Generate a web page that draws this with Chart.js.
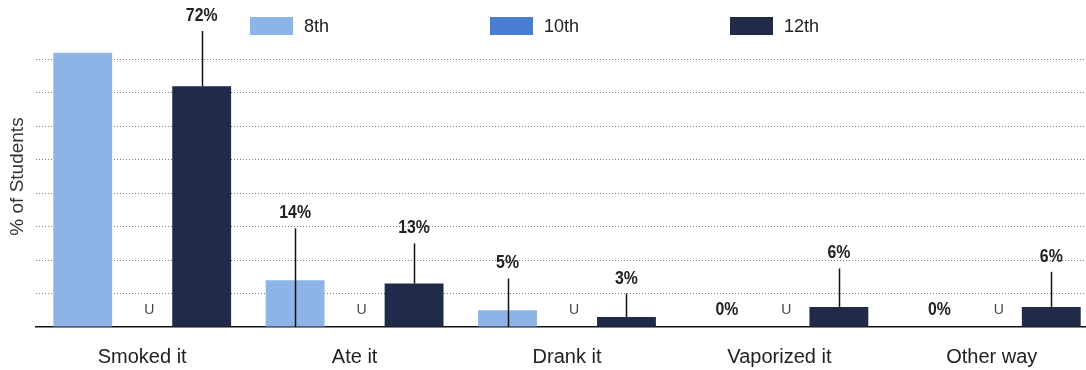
<!DOCTYPE html>
<html>
<head>
<meta charset="utf-8">
<script src="https://cdn.jsdelivr.net/npm/chart.js@4/dist/chart.umd.min.js"></script>
<style>
  html, body { margin:0; padding:0; background:#fff; overflow:hidden; width:1086px; height:370px; }
  #wrap { position:relative; width:1100px; height:370px; }
  #legend { position:absolute; left:250px; top:17px; display:flex; font-family:"Liberation Sans", Arial, sans-serif; font-size:18px; color:#222; }
  .item { width:240px; display:flex; align-items:center; height:18px; }
  .box { width:43px; height:18px; margin-right:11px; }
</style>
</head>
<body>
<div id="wrap">
  <canvas id="c" width="1100" height="370"></canvas>
  <div id="legend"></div>
</div>
<script>
// ---- data ----
const categories = ['Smoked it', 'Ate it', 'Drank it', 'Vaporized it', 'Other way'];
const seriesNames = ['8th', '10th', '12th'];
const seriesColors = ['#8db4e6', '#4a7dd2', '#1f2b48'];
const grade8  = [82, 14, 5, 0, 0];
const grade10 = [null, null, null, null, null];
const grade12 = [72, 13, 3, 6, 6];
const grade8Lower  = [null, 0, 0, null, null];
const grade8Upper  = [null, 29.5, 14.5, null, null];
const grade10Lower = [null, null, null, null, null];
const grade10Upper = [null, null, null, null, null];
const grade12Lower = [72, 13, 3, 6, 6];
const grade12Upper = [88.5, 25, 10, 17.5, 16.5];
const grade8Labels  = ['', '14%', '5%', '0%', '0%'];
const grade10Labels = ['U', 'U', 'U', 'U', 'U'];
const grade12Labels = ['72%', '13%', '3%', '6%', '6%'];
const yMin = 0, yMax = 90, yStep = 10;

const lowers = [grade8Lower, grade10Lower, grade12Lower];
const uppers = [grade8Upper, grade10Upper, grade12Upper];
const labels = [grade8Labels, grade10Labels, grade12Labels];

// HTML legend
const lg = document.getElementById('legend');
seriesNames.forEach((n, i) => {
  const it = document.createElement('div'); it.className = 'item';
  const b = document.createElement('div'); b.className = 'box'; b.style.background = seriesColors[i];
  const t = document.createElement('span'); t.textContent = n;
  it.appendChild(b); it.appendChild(t); lg.appendChild(it);
});

function narrowText(ctx, txt, x, y) {
  ctx.save();
  ctx.translate(x, y);
  ctx.scale(0.88, 1);
  ctx.fillText(txt, 0, 0);
  ctx.restore();
}

const ciPlugin = {
  id: 'ciAndLabels',
  afterDatasetsDraw(chart) {
    const ctx = chart.ctx;
    const y = chart.scales.y;
    const y0 = y.getPixelForValue(0);
    chart.data.datasets.forEach((ds, di) => {
      const meta = chart.getDatasetMeta(di);
      meta.data.forEach((bar, i) => {
        const x = bar.x;
        const up = uppers[di][i], lo = lowers[di][i];
        let labelY = null;
        if (up !== null && up !== undefined) {
          const yt = y.getPixelForValue(up);
          const yb = y.getPixelForValue(lo);
          ctx.save();
          ctx.strokeStyle = '#111';
          ctx.lineWidth = 1.5;
          ctx.beginPath();
          ctx.moveTo(Math.round(x) + 0.5, yt);
          ctx.lineTo(Math.round(x) + 0.5, yb);
          ctx.stroke();
          ctx.restore();
          labelY = yt - 15;
        }
        const txt = labels[di][i];
        if (!txt) return;
        ctx.save();
        ctx.textAlign = 'center';
        ctx.textBaseline = 'middle';
        if (labelY === null) {
          labelY = y0 - 17;
          if (txt === 'U') {
            ctx.font = '14px "Liberation Sans", Arial, sans-serif';
            ctx.fillStyle = '#444';
            ctx.fillText(txt, x + 7, labelY);
          } else {
            ctx.font = 'bold 18px "Liberation Sans", Arial, sans-serif';
            ctx.fillStyle = '#222';
            narrowText(ctx, txt, x + 7, labelY);
          }
        } else {
          ctx.font = 'bold 18px "Liberation Sans", Arial, sans-serif';
          ctx.fillStyle = '#222';
          narrowText(ctx, txt, x, labelY);
        }
        ctx.restore();
      });
    });
  }
};

new Chart(document.getElementById('c'), {
  type: 'bar',
  data: {
    labels: categories,
    datasets: [
      { label: seriesNames[0], data: grade8,  backgroundColor: seriesColors[0] },
      { label: seriesNames[1], data: grade10, backgroundColor: seriesColors[1] },
      { label: seriesNames[2], data: grade12, backgroundColor: seriesColors[2] }
    ]
  },
  options: {
    responsive: false,
    animation: false,
    devicePixelRatio: 1,
    layout: { padding: { top: 26, right: 2, left: 0, bottom: 0 } },
    datasets: { bar: { categoryPercentage: 0.84, barPercentage: 0.99 } },
    plugins: { legend: { display: false }, tooltip: { enabled: false } },
    scales: {
      x: {
        grid: { display: false, drawTicks: false },
        border: { display: true, color: '#111', width: 1.5 },
        ticks: { color: '#222', padding: 18, font: { family: '"Liberation Sans", Arial, sans-serif', size: 20 } },
        afterFit(s) { s.height = 43; }
      },
      y: {
        min: yMin, max: yMax,
        ticks: { display: false, stepSize: yStep },
        grid: {
          drawTicks: false,
          lineWidth: 1,
          color: (c) => (c.tick && (c.tick.value === 0 || c.tick.value === yMax)) ? 'rgba(0,0,0,0)' : '#808080'
        },
        border: { display: false, dash: [1, 2] },
        title: {
          display: true, text: '% of Students', color: '#333',
          font: { family: '"Liberation Sans", Arial, sans-serif', size: 19 },
          padding: { top: 6, bottom: 0 }
        },
        afterFit(s) { s.width = 36; }
      }
    }
  },
  plugins: [ciPlugin]
});
</script>
</body>
</html>
